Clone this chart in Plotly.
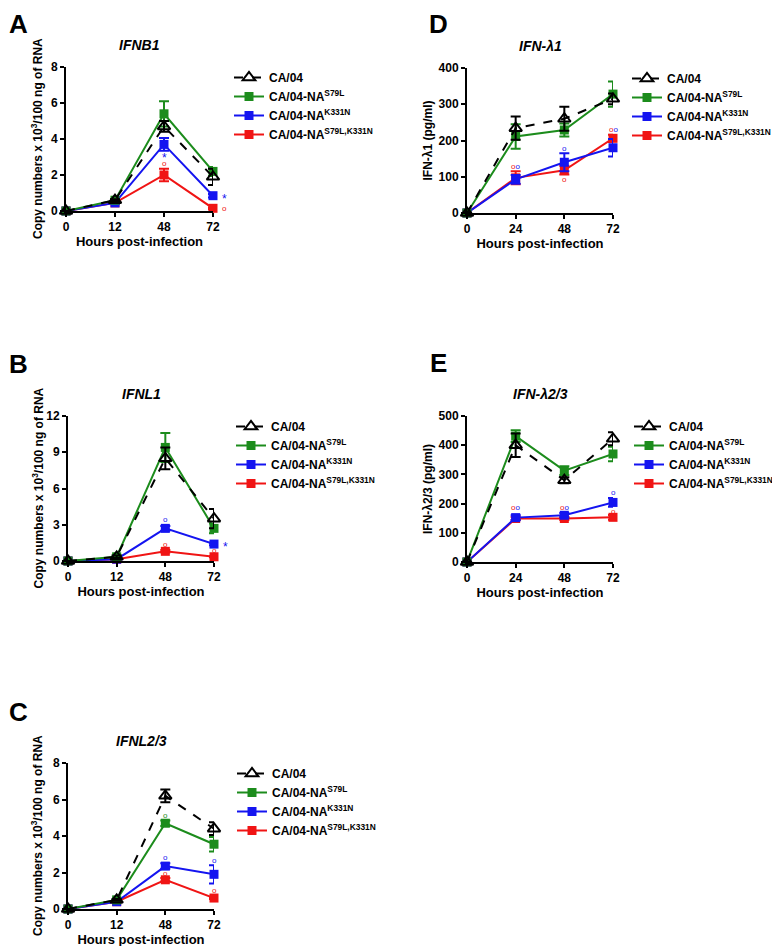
import plotly.graph_objects as go

# Hours post-infection (qPCR panels use equally spaced categories, ELISA panels are linear)
hours_rna = ["0", "12", "48", "72"]
hours_elisa = [0, 24, 48, 72]

series_names = ["CA/04", "CA/04-NA<sup>S79L</sup>", "CA/04-NA<sup>K331N</sup>",
                "CA/04-NA<sup>S79L,K331N</sup>"]

# Panel A: IFNB1 (copy numbers x 10^3 / 100 ng RNA)
a_ca04 = [0, 0.6, 4.7, 1.9]
a_ca04_err = [0, 0.05, 0.3, 0.45]
a_s79l = [0, 0.6, 5.4, 2.2]
a_s79l_err = [0, 0.05, 0.7, 0.25]
a_k331n = [0, 0.45, 3.7, 0.85]
a_k331n_err = [0, 0.05, 0.35, 0.1]
a_dbl = [0, 0.45, 2.0, 0.15]
a_dbl_err = [0, 0.05, 0.35, 0.05]

# Panel B: IFNL1
b_ca04 = [0, 0.35, 8.5, 3.5]
b_ca04_err = [0, 0.1, 0.9, 0.8]
b_s79l = [0, 0.35, 9.4, 2.7]
b_s79l_err = [0, 0.1, 1.2, 0.4]
b_k331n = [0, 0.15, 2.7, 1.4]
b_k331n_err = [0, 0.05, 0.2, 0.1]
b_dbl = [0, 0.15, 0.8, 0.35]
b_dbl_err = [0, 0.05, 0.1, 0.05]

# Panel C: IFNL2/3
c_ca04 = [0, 0.5, 6.2, 4.4]
c_ca04_err = [0, 0.05, 0.35, 0.35]
c_s79l = [0, 0.5, 4.7, 3.55]
c_s79l_err = [0, 0.05, 0.15, 0.4]
c_k331n = [0, 0.4, 2.35, 1.9]
c_k331n_err = [0, 0.05, 0.15, 0.5]
c_dbl = [0, 0.4, 1.6, 0.6]
c_dbl_err = [0, 0.05, 0.1, 0.05]

# Panel D: IFN-lambda1 (pg/ml)
d_ca04 = [0, 234, 260, 315]
d_ca04_err = [0, 32, 33, 15]
d_s79l = [0, 211, 229, 328]
d_s79l_err = [0, 34, 18, 35]
d_k331n = [0, 93, 140, 180]
d_k331n_err = [0, 12, 25, 24]
d_dbl = [0, 97, 118, 206]
d_dbl_err = [0, 18, 12, 10]

# Panel E: IFN-lambda2/3 (pg/ml)
e_ca04 = [0, 400, 280, 422]
e_ca04_err = [0, 40, 10, 22]
e_s79l = [0, 431, 313, 370]
e_s79l_err = [0, 20, 15, 25]
e_k331n = [0, 152, 160, 204]
e_k331n_err = [0, 8, 8, 15]
e_dbl = [0, 149, 149, 153]
e_dbl_err = [0, 5, 5, 8]

# Significance marks: panel, hour, value, mark ("o" / "*" / "oo" = red+blue), series, side
sig_panel = ["A", "A", "A", "A", "B", "B", "B", "B", "C", "C", "C", "C", "C",
             "D", "D", "D", "D", "E", "E", "E", "E"]
sig_hour = ["48", "48", "72", "72", "48", "48", "72", "72", "48", "48", "48", "72", "72",
            24, 48, 48, 72, 24, 48, 72, 72]
sig_value = [3.1, 2.65, 0.85, 0.15, 3.45, 1.4, 1.4, 0.85, 5.15, 2.8, 1.95, 2.65, 1.0,
             129, 177, 92, 230, 185, 185, 237, 174]
sig_mark = ["*", "o", "*", "o", "o", "o", "*", "o", "o", "o", "o", "o", "o",
            "oo", "o", "o", "oo", "oo", "oo", "o", "o"]
sig_series = [2, 3, 2, 3, 2, 3, 2, 3, 1, 2, 3, 2, 3,
              None, 2, 3, None, None, None, 2, 3]
sig_side = ["above", "above", "right", "right", "above", "above", "right", "above",
            "above", "above", "above", "above", "above",
            "above", "above", "above", "above", "above", "above", "above", "above"]

colors = ["black", "#1c8c1c", "#1414f0", "#f01414"]
FONT = "Liberation Sans, Arial, sans-serif"
W, H = 780, 946
OFF = 8  # the page body margin pushes the figure down/right


def px(x):
    return (x - OFF) / W


def py(y):
    return 1 - (y - OFF) / H


# per panel: axis suffix, x values, x pixel span, y pixel span (bottom, top), ymax, dtick,
# title, y title, data, letter centre, legend (left, top)
panels = {
    "A": dict(ax="", x=hours_rna, xs=(66, 213), ys=(211, 67), ymax=8, dtick=2,
              title="IFNB1", ytitle="Copy numbers x 10<sup>3</sup>/100 ng of RNA",
              data=[(a_ca04, a_ca04_err), (a_s79l, a_s79l_err), (a_k331n, a_k331n_err), (a_dbl, a_dbl_err)],
              letter=(18, 24), leg=(229, 63), legname="legend"),
    "B": dict(ax="2", x=hours_rna, xs=(68, 214), ys=(561, 416), ymax=12, dtick=3,
              title="IFNL1", ytitle="Copy numbers x 10<sup>3</sup>/100 ng of RNA",
              data=[(b_ca04, b_ca04_err), (b_s79l, b_s79l_err), (b_k331n, b_k331n_err), (b_dbl, b_dbl_err)],
              letter=(18, 364), leg=(231, 412), legname="legend2"),
    "C": dict(ax="3", x=hours_rna, xs=(68, 214), ys=(909, 763), ymax=8, dtick=2,
              title="IFNL2/3", ytitle="Copy numbers x 10<sup>3</sup>/100 ng of RNA",
              data=[(c_ca04, c_ca04_err), (c_s79l, c_s79l_err), (c_k331n, c_k331n_err), (c_dbl, c_dbl_err)],
              letter=(18, 712), leg=(232, 759), legname="legend3"),
    "D": dict(ax="4", x=hours_elisa, xs=(467, 613), ys=(213, 68), ymax=400, dtick=100,
              title="IFN-λ1", ytitle="IFN-λ1 (pg/ml)",
              data=[(d_ca04, d_ca04_err), (d_s79l, d_s79l_err), (d_k331n, d_k331n_err), (d_dbl, d_dbl_err)],
              letter=(438, 24), leg=(627, 64), legname="legend4"),
    "E": dict(ax="5", x=hours_elisa, xs=(467, 613), ys=(562, 416), ymax=500, dtick=100,
              title="IFN-λ2/3", ytitle="IFN-λ2/3 (pg/ml)",
              data=[(e_ca04, e_ca04_err), (e_s79l, e_s79l_err), (e_k331n, e_k331n_err), (e_dbl, e_dbl_err)],
              letter=(438, 363), leg=(629, 412), legname="legend5"),
}
ytitle_x = {"A": 37, "B": 37, "C": 37, "D": 428, "E": 428}

fig = go.Figure()
layout = dict(width=W, height=H, margin=dict(l=0, r=0, t=0, b=0, autoexpand=False),
              plot_bgcolor="white", paper_bgcolor="white",
              font=dict(family=FONT, size=12, color="black"), annotations=[])

for key, p in panels.items():
    xa, ya = "x" + p["ax"], "y" + p["ax"]
    # draw order: double mutant, K331N, S79L, CA/04 on top
    for i in [3, 2, 1, 0]:
        vals, errs = p["data"][i]
        if i == 0:
            marker = dict(symbol="triangle-up-open", size=11, color="black", line=dict(width=2))
            line = dict(color="black", width=2, dash="dash")
        else:
            marker = dict(symbol="square", size=9, color=colors[i])
            line = dict(color=colors[i], width=2)
        fig.add_trace(go.Scatter(
            x=p["x"], y=vals, mode="lines+markers", name=series_names[i],
            marker=marker, line=line, cliponaxis=False,
            error_y=dict(type="data", array=errs, color=colors[i], thickness=2, width=5),
            xaxis=xa, yaxis=ya, legend=p["legname"], showlegend=True))

    x_is_cat = isinstance(p["x"][0], str)
    xaxis = dict(domain=[px(p["xs"][0]), px(p["xs"][1])], anchor=ya, automargin=False,
                 showline=True, linecolor="black", linewidth=2, ticks="outside",
                 ticklen=4, tickwidth=2, tickcolor="black", showgrid=False, zeroline=False,
                 tickfont=dict(size=12, weight="bold"),
                 title=dict(text="<b>Hours post-infection</b>", font=dict(size=13), standoff=1))
    if x_is_cat:
        xaxis.update(type="category", range=[0, 3])
    else:
        xaxis.update(range=[0, 72], tickvals=p["x"])
    yaxis = dict(domain=[py(p["ys"][0]), py(p["ys"][1])], anchor=xa, automargin=False,
                 range=[0, p["ymax"]], dtick=p["dtick"],
                 showline=True, linecolor="black", linewidth=2, ticks="outside",
                 ticklen=4, tickwidth=2, tickcolor="black", showgrid=False, zeroline=False,
                 tickfont=dict(size=12, weight="bold"))
    layout["xaxis" + p["ax"]] = xaxis
    layout["yaxis" + p["ax"]] = yaxis

    layout[p["legname"]] = dict(x=px(p["leg"][0]), y=py(p["leg"][1]), xanchor="left", yanchor="top",
                                xref="container", yref="container",
                                traceorder="reversed", bgcolor="rgba(0,0,0,0)",
                                font=dict(size=12, weight="bold"), itemwidth=30,
                                tracegroupgap=0)

    # y axis title, panel title and letter
    layout["annotations"].append(dict(
        x=px(ytitle_x[key]), y=py((p["ys"][0] + p["ys"][1]) / 2), xref="paper", yref="paper",
        text="<b>" + p["ytitle"] + "</b>", textangle=-90, showarrow=False, font=dict(size=12),
        xanchor="center", yanchor="middle"))
    layout["annotations"].append(dict(
        x=px((p["xs"][0] + p["xs"][1]) / 2), y=py(p["ys"][1] - 22), xref="paper", yref="paper",
        text="<b><i>" + p["title"] + "</i></b>", showarrow=False, font=dict(size=14),
        xanchor="center", yanchor="middle"))
    layout["annotations"].append(dict(
        x=px(p["letter"][0]), y=py(p["letter"][1]), xref="paper", yref="paper",
        text="<b>" + key + "</b>", showarrow=False, font=dict(size=26),
        xanchor="center", yanchor="middle"))

# significance marks
for pan, hr, val, mark, ser, side in zip(sig_panel, sig_hour, sig_value, sig_mark, sig_series, sig_side):
    p = panels[pan]
    # category axes take the category index
    xpos = p["x"].index(hr) if isinstance(hr, str) else hr
    if mark == "oo":
        text = f"<span style='color:{colors[3]}'>o</span><span style='color:{colors[2]}'>o</span>"
        col = "black"
    else:
        text = mark
        col = colors[ser]
    size = 12 if mark == "*" else 8
    layout["annotations"].append(dict(
        x=xpos, y=val, xref="x" + p["ax"], yref="y" + p["ax"], text=text, showarrow=False,
        font=dict(size=size, color=col), xanchor="center", yanchor="middle",
        xshift=11 if side == "right" else 0, yshift=-3 if mark == "*" else 0))

fig.update_layout(**layout)
fig.write_html("out.html")
